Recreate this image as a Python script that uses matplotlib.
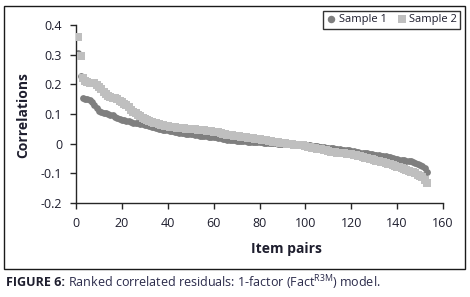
import matplotlib
matplotlib.use('Agg')
import matplotlib.pyplot as plt
from matplotlib.patches import Rectangle
import numpy as np

plt.rcParams['font.family'] = ['Open Sans', 'DejaVu Sans']

# Ranked correlated residuals
sample1 = [0.305, 0.228, 0.155, 0.152, 0.149, 0.146, 0.140, 0.131, 0.120, 0.111,
           0.107, 0.104, 0.102, 0.100, 0.098, 0.095, 0.091, 0.087, 0.083, 0.081,
           0.080, 0.078, 0.075, 0.072, 0.071, 0.070, 0.068, 0.066, 0.065, 0.064,
           0.062, 0.060, 0.057, 0.055, 0.053, 0.051, 0.049, 0.047, 0.046, 0.045,
           0.044, 0.042, 0.040, 0.038, 0.037, 0.036, 0.035, 0.034, 0.033, 0.032,
           0.031, 0.030, 0.028, 0.027, 0.026, 0.025, 0.025, 0.024, 0.023, 0.022,
           0.021, 0.020, 0.018, 0.017, 0.015, 0.014, 0.013, 0.012, 0.011, 0.010,
           0.010, 0.009, 0.008, 0.008, 0.007, 0.006, 0.006, 0.005, 0.005, 0.004,
           0.004, 0.003, 0.003, 0.002, 0.002, 0.001, 0.001, 0.000, -0.000, -0.001,
           -0.001, -0.001, -0.002, -0.002, -0.002, -0.003, -0.003, -0.003, -0.004, -0.004,
           -0.005, -0.006, -0.007, -0.008, -0.009, -0.010, -0.011, -0.012, -0.013, -0.014,
           -0.015, -0.016, -0.017, -0.018, -0.019, -0.020, -0.021, -0.022, -0.023, -0.025,
           -0.026, -0.027, -0.028, -0.030, -0.031, -0.032, -0.033, -0.034, -0.035, -0.037,
           -0.038, -0.039, -0.040, -0.042, -0.043, -0.045, -0.046, -0.048, -0.050, -0.052,
           -0.054, -0.055, -0.056, -0.057, -0.058, -0.060, -0.063, -0.066, -0.069, -0.072,
           -0.076, -0.083, -0.094]

sample2 = [0.360, 0.297, 0.222, 0.212, 0.208, 0.206, 0.205, 0.203, 0.198, 0.190,
           0.184, 0.175, 0.166, 0.160, 0.156, 0.155, 0.153, 0.150, 0.145, 0.140,
           0.135, 0.130, 0.122, 0.115, 0.108, 0.102, 0.097, 0.092, 0.088, 0.084,
           0.080, 0.077, 0.074, 0.071, 0.068, 0.066, 0.064, 0.062, 0.060, 0.058,
           0.057, 0.056, 0.055, 0.054, 0.054, 0.053, 0.052, 0.051, 0.050, 0.049,
           0.048, 0.048, 0.047, 0.047, 0.046, 0.045, 0.044, 0.043, 0.042, 0.041,
           0.040, 0.038, 0.036, 0.034, 0.032, 0.030, 0.029, 0.028, 0.027, 0.026,
           0.025, 0.024, 0.022, 0.021, 0.020, 0.019, 0.018, 0.017, 0.016, 0.015,
           0.014, 0.013, 0.011, 0.010, 0.008, 0.007, 0.006, 0.005, 0.003, 0.002,
           0.001, 0.000, -0.001, -0.002, -0.003, -0.004, -0.004, -0.005, -0.006, -0.008,
           -0.010, -0.012, -0.014, -0.016, -0.017, -0.018, -0.019, -0.021, -0.023, -0.025,
           -0.027, -0.028, -0.029, -0.030, -0.031, -0.032, -0.033, -0.034, -0.035, -0.036,
           -0.037, -0.039, -0.041, -0.043, -0.045, -0.047, -0.049, -0.051, -0.053, -0.055,
           -0.057, -0.059, -0.061, -0.063, -0.065, -0.067, -0.069, -0.071, -0.074, -0.077,
           -0.079, -0.082, -0.085, -0.088, -0.091, -0.094, -0.097, -0.100, -0.104, -0.108,
           -0.114, -0.122, -0.134]

item_pairs = np.arange(1, len(sample1) + 1)
xticks = [0, 20, 40, 60, 80, 100, 120, 140, 160]
yticks = [-0.2, -0.1, 0, 0.1, 0.2, 0.3, 0.4]
ytick_labels = ['-0.2', '-0.1', '0', '0.1', '0.2', '0.3', '0.4']

txt = '#1e1e2e'
W, H = 470, 297
fig = plt.figure(figsize=(W / 100, H / 100), dpi=100)
ax = fig.add_axes([76 / W, 1 - 203 / H, (443 - 76) / W, (203 - 25) / H])

ax.scatter(item_pairs, sample1, marker='o', s=24, color='#7f7f7f', lw=0, label='Sample 1', zorder=2)
ax.scatter(item_pairs, sample2, marker='s', s=30, color='#bfbfbf', lw=0, label='Sample 2', zorder=3)

ax.set_xlim(0, 160)
ax.set_ylim(-0.2, 0.4)
ax.set_xticks(xticks)
ax.set_yticks(yticks)
ax.set_yticklabels(ytick_labels)
for s in ['top', 'right']:
    ax.spines[s].set_visible(False)
for s in ['left', 'bottom']:
    ax.spines[s].set_color('#262626')
    ax.spines[s].set_linewidth(1.0)
ax.tick_params(direction='out', length=4, width=1, color='#262626',
               labelsize=9, labelcolor=txt, pad=6)

fig.text(286 / W, 1 - 249 / H, 'Item pairs', fontsize=10, fontweight='bold',
         color=txt, ha='center', va='center')
fig.text(23 / W, 1 - 115 / H, 'Correlations', fontsize=10, fontweight='bold',
         color=txt, ha='center', va='center', rotation=90)

leg = fig.legend(loc='upper right', bbox_to_anchor=(460 / W, 1 - 11 / H), ncol=2,
                 fontsize=8, frameon=True, fancybox=False, handletextpad=0.2,
                 columnspacing=0.9, borderpad=0.3, markerscale=1.1,
                 handlelength=0.9, borderaxespad=0)
leg.get_frame().set_edgecolor('#000000')
leg.get_frame().set_linewidth(1.0)
for t in leg.get_texts():
    t.set_color(txt)

# outer frame
fig.patches.append(Rectangle((4 / W, 1 - 269 / H), (465 - 4) / W, (269 - 6) / H,
                             transform=fig.transFigure, fill=False,
                             edgecolor='#1a1a1a', lw=1.0))

# caption: bold label followed by regular text
t1 = fig.text(6 / W, 1 - 283 / H, 'FIGURE 6:', fontsize=9, fontweight='bold',
              color=txt, ha='left', va='center')
fig.add_artist(plt.Annotation(' Ranked correlated residuals: 1-factor (Fact$^{\\mathregular{R3M}}$) model.',
                              xy=(1, 0.5), xycoords=t1, va='center', ha='left',
                              fontsize=9, color='#2a2a4a'))

fig.savefig('out.png', dpi=100)
